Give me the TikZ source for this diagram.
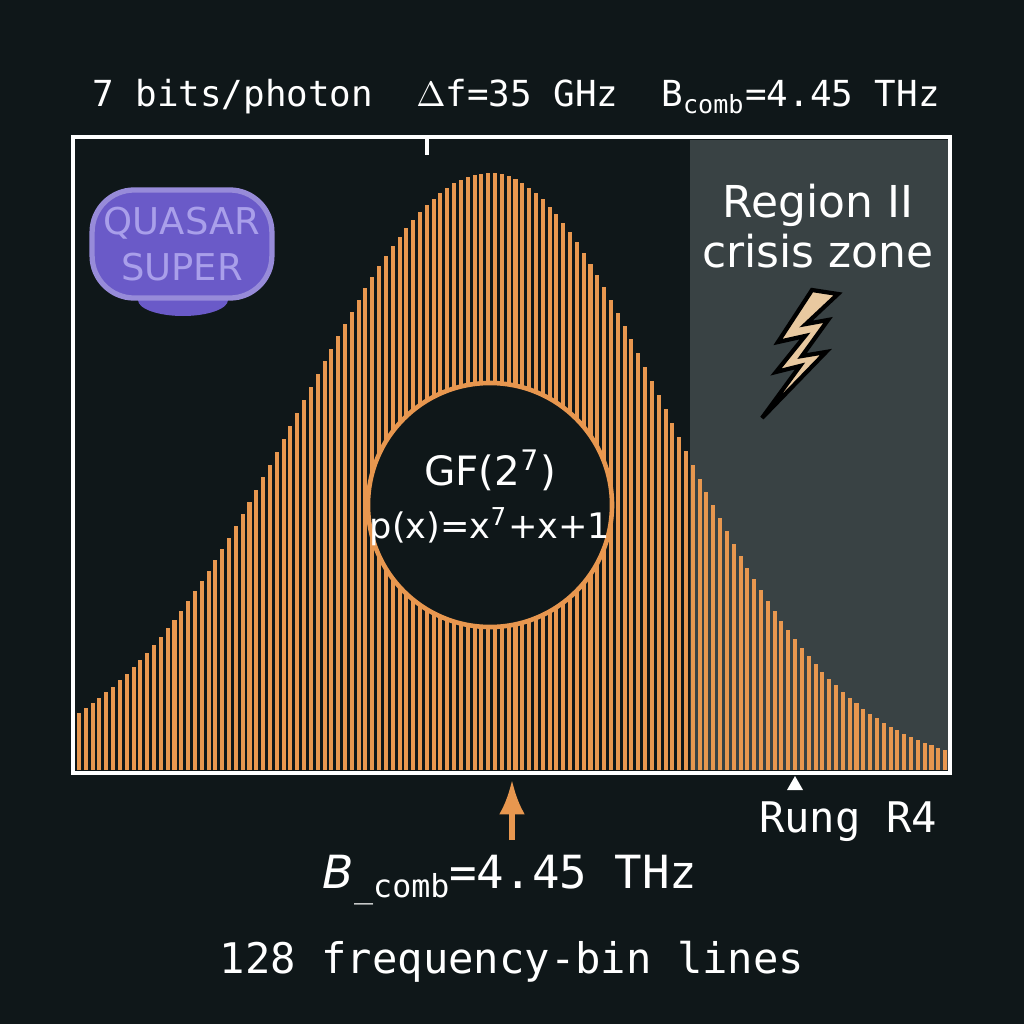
\documentclass[tikz,border=0pt]{standalone}
\usepackage{fontspec}
\setmainfont{DejaVu Sans}
\setsansfont{DejaVu Sans}
\setmonofont{DejaVu Sans Mono}
\usetikzlibrary{arrows.meta}
\definecolor{bg}{HTML}{0F1719}
\definecolor{zone}{HTML}{394244}
\definecolor{comb}{HTML}{E8974F}
\definecolor{badge}{HTML}{6A5AC8}
\definecolor{badgetxt}{HTML}{A99FEA}
\definecolor{bolt}{HTML}{E9C9A0}

\begin{document}
\begin{tikzpicture}[x=0.01cm,y=-0.01cm,>=Latex,
  monotxt/.style={text=white,font=\ttfamily},
  sanstxt/.style={text=white,font=\sffamily}]

% dark background
\fill[bg] (0,0) rectangle (1024,1024);

% crisis zone shading
\fill[zone] (690,140) rectangle (948,770);

% comb lines (gaussian envelope)
\foreach \i in {0,...,127} {
  \pgfmathsetmacro{\xx}{79+\i*6.82}
  \pgfmathsetmacro{\ss}{ifthenelse(\xx<490,190,175)}
  \pgfmathsetmacro{\hh}{597*exp(-0.5*((\xx-490)/\ss)^2)}
  \draw[comb, line width=1.15pt] (\xx,770) -- (\xx,770-\hh);
}

% frame and tick
\draw[white, line width=1pt] (73,137) rectangle (950,773);
\draw[white, line width=1pt] (427,137) -- (427,155);

% field circle
\fill[bg] (490,505) circle (122);
\draw[comb, line width=1.3pt] (490,505) circle (122);
\node[sanstxt, font=\sffamily\fontsize{11.5}{14}\selectfont] (gf) at (490,470)
  {GF(2\textsuperscript{7})};
\node[sanstxt, font=\sffamily\fontsize{10}{14}\selectfont] (poly) at (490,527)
  {p(x)=x\textsuperscript{7}+x+1};

% badge
\fill[badge] (183,300) ellipse (45 and 16);
\node[draw=badge!70!white, fill=badge, rounded corners=12pt, line width=1.5pt,
  minimum width=1.79cm, minimum height=1.08cm, align=center, text=badgetxt,
  font=\sffamily\fontsize{10.5}{13}\selectfont] (badge) at (182,244) {QUASAR\\SUPER};

% zone label and bolt
\node[sanstxt, align=center, font=\sffamily\fontsize{12.5}{14}\selectfont] (zonelbl) at (818,226)
  {Region II\\crisis zone};
\draw[black, fill=bolt, line width=1.2pt, line join=miter]
  (812,290) -- (778,342) -- (805,336) -- (776,372) -- (800,366) -- (762,418)
  -- (826,352) -- (802,356) -- (828,320) -- (806,324) -- (838,294) -- cycle;

% top caption
\node[monotxt, font=\ttfamily\fontsize{10.2}{12}\selectfont] (top) at (516,97)
  {7 bits/photon\ \ \(\Delta\)f=35 GHz\ \ B\textsubscript{comb}=4.45 THz};

% rung marker
\fill[white] (795,776) -- (787,790) -- (803,790) -- cycle;
\node[monotxt, font=\ttfamily\fontsize{12}{14}\selectfont] (rung) at (848,822) {Rung R4};

% centre arrow and labels
\coordinate (arrtip) at (512,780);
\coordinate (arrtail) at (512,840);
\draw[->, comb, line width=1.5pt] (arrtail) -- (arrtip);
\node[monotxt, font=\ttfamily\fontsize{13}{15}\selectfont] (bcomb) at (510,880)
  {\textit{\sffamily B}\raisebox{-0.35ex}{\fontsize{9}{10}\selectfont\_comb}=4.45 THz};
\node[monotxt, font=\ttfamily\fontsize{12}{14}\selectfont] (lines) at (512,962)
  {128 frequency-bin lines};

\end{tikzpicture}
\end{document}
